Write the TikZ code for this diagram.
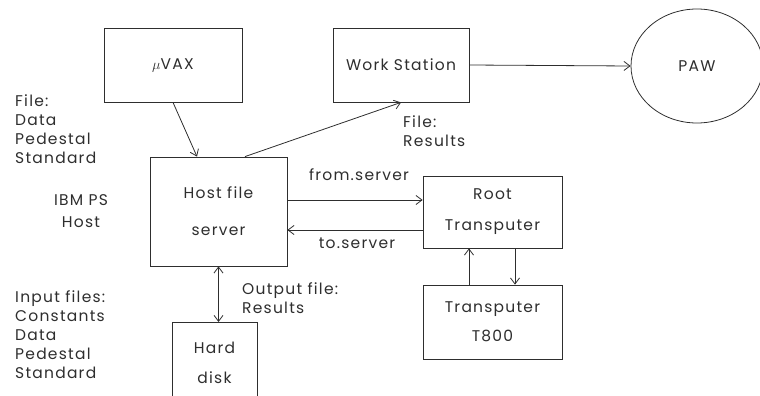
\documentclass[tikz,border=0pt]{standalone}
\usepackage{fontspec}
\setmainfont[LetterSpace=8]{Poppins}
\usetikzlibrary{shapes.geometric,arrows.meta}
\definecolor{ink}{gray}{0.18}
\tikzset{
  box/.style={draw=ink, line width=0.8pt, rectangle, align=center, inner sep=0pt, text=ink},
  arr/.style={draw=ink, line width=0.8pt, -{Straight Barb[length=6pt,width=9pt]}},
  arrtwo/.style={draw=ink, line width=0.8pt, {Straight Barb[length=6pt,width=9pt]}-{Straight Barb[length=6pt,width=9pt]}},
  lbl/.style={text=ink, inner sep=0pt, align=left},
  txt/.style={font=\fontsize{15.5}{19}\selectfont}
}
\begin{document}
\begin{tikzpicture}[x=1pt,y=-1pt,txt]
\useasboundingbox (0,0) rectangle (760,396);
\node[box, minimum width=138pt, minimum height=74pt] (vax) at (173,65) {$\mu$VAX};
\node[box, minimum width=136pt, minimum height=74pt] (ws) at (401,65) {Work Station};
\node[draw=ink, line width=0.8pt, ellipse, minimum width=132pt, minimum height=114pt, text=ink, inner sep=0pt] (paw) at (697,66) {PAW};
\node[box, minimum width=137pt, minimum height=109pt] (host) at (218.5,211.5) {Host file\\[18pt]server};
\node[box, minimum width=139pt, minimum height=72pt] (root) at (492.5,212) {Root\\[12pt]Transputer};
\node[box, minimum width=139pt, minimum height=74pt] (t800) at (492.5,322) {Transputer\\[10pt]T800};
\node[box, minimum width=85pt, minimum height=80pt, anchor=north] (disk) at (214.5,322) {Hard\\[11pt]disk};

\draw[arr] (vax.south) -- ([xshift=-21.5pt]host.north);
\draw[arr] ([xshift=26.5pt]host.north) -- (ws.south);
\draw[arr] (ws.east) -- (paw.west);
\draw[arr] ([yshift=11.5pt]host.east) -- ([yshift=11.5pt]host.east -| root.west);
\draw[arr] ([yshift=-18pt]root.west) -- ([yshift=-18pt]root.west -| host.east);
\draw[arr] ([xshift=-23.5pt]t800.north) -- ([xshift=-23.5pt]root.south);
\draw[arr] ([xshift=22.5pt]root.south) -- ([xshift=22.5pt]t800.north);
\draw[arrtwo] (host.south) -- (host.south |- disk.north);

\node[lbl] (fromlbl) at (359,175) {from.server};
\node[lbl] (tolbl) at (357,243) {to.server};
\node[lbl, anchor=north west] (filedata) at (15,95) {File:\\Data\\Pedestal\\Standard};
\node[lbl, align=center] (ibm) at (81,211.5) {IBM PS\\[3pt]Host};
\node[lbl, anchor=north west] (fileres) at (403,116) {File:\\Results};
\node[lbl, anchor=north west] (outfile) at (242,282) {Output file:\\Results};
\node[lbl, anchor=north west] (infiles) at (15,290) {Input files:\\Constants\\Data\\Pedestal\\Standard};
\end{tikzpicture}
\end{document}
